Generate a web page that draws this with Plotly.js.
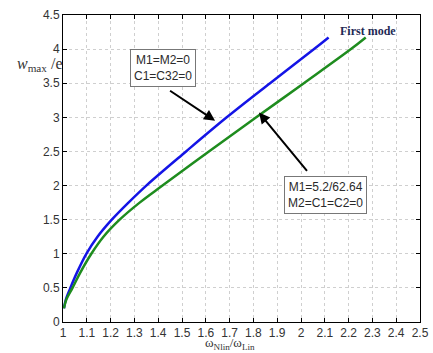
<!DOCTYPE html>
<html>
<head>
<meta charset="utf-8">
<script src="https://cdn.plot.ly/plotly-3.0.1.min.js"></script>
<style>html,body{margin:0;padding:0;background:#fff}#plot{width:433px;height:353px}</style>
</head>
<body>
<div id="plot"></div>
<script>
// Blue curve: M1=M2=0, C1=C32=0
var blueRatio = [1.004, 1.012, 1.031, 1.058, 1.098, 1.145, 1.205, 1.275, 1.350, 1.517, 1.688, 1.870, 2.055, 2.116];
var blueAmp   = [0.20,  0.33,  0.50,  0.72,  1.00,  1.25,  1.50,  1.75,  2.00,  2.50,  3.00,  3.50,  4.00,  4.17];
// Green curve: M1=5.2/62.64, M2=C1=C2=0
var greenRatio = [1.004, 1.014, 1.040, 1.072, 1.119, 1.170, 1.238, 1.322, 1.418, 1.613, 1.812, 2.012, 2.210, 2.272];
var greenAmp   = [0.20,  0.33,  0.50,  0.72,  1.00,  1.25,  1.50,  1.75,  2.00,  2.50,  3.00,  3.50,  4.00,  4.17];

var xTicks = [1, 1.1, 1.2, 1.3, 1.4, 1.5, 1.6, 1.7, 1.8, 1.9, 2, 2.1, 2.2, 2.3, 2.4, 2.5];
var xTickText = ['1','1.1','1.2','1.3','1.4','1.5','1.6','1.7','1.8','1.9','2','2.1','2.2','2.3','2.4','2.5'];
var yTicks = [0, 0.5, 1, 1.5, 2, 2.5, 3, 3.5, 4, 4.5];
var yTickText = ['0','0.5','1','1.5','2','2.5','3','3.5','4','4.5'];

var traces = [
  {x: blueRatio, y: blueAmp, mode: 'lines', line: {color: '#1414e6', width: 2.5, shape: 'spline', smoothing: 1}, hoverinfo: 'skip'},
  {x: greenRatio, y: greenAmp, mode: 'lines', line: {color: '#1e8c1e', width: 2.5, shape: 'spline', smoothing: 1}, hoverinfo: 'skip'}
];

var tickFont = {family: 'Liberation Sans, Arial, sans-serif', size: 12, color: '#333'};
var boxFont = {family: 'Liberation Sans, Arial, sans-serif', size: 12, color: '#2a2a2a'};

var layout = {
  width: 433, height: 353,
  margin: {l: 63, r: 13, t: 15, b: 31},
  paper_bgcolor: '#fff', plot_bgcolor: '#fff',
  showlegend: false,
  xaxis: {
    range: [1, 2.5], tickvals: xTicks, ticktext: xTickText,
    showgrid: true, gridcolor: '#cfcfcf', griddash: 'dot', gridwidth: 1,
    zeroline: false, showline: true, linecolor: '#000', linewidth: 1, mirror: 'ticks',
    ticks: 'inside', ticklen: 4, tickcolor: '#000', tickfont: tickFont
  },
  yaxis: {
    range: [0, 4.5], tickvals: yTicks, ticktext: yTickText,
    showgrid: true, gridcolor: '#cfcfcf', griddash: 'dot', gridwidth: 1,
    zeroline: false, showline: true, linecolor: '#000', linewidth: 1, mirror: 'ticks',
    ticks: 'inside', ticklen: 4, tickcolor: '#000', tickfont: tickFont
  },
  annotations: [
    {xref: 'paper', yref: 'paper', x: -0.135, y: 0.84, xanchor: 'left', yanchor: 'middle', showarrow: false,
     text: '<i>w</i><sub>max</sub> /e', font: {family: 'Liberation Serif, Times New Roman, serif', size: 16, color: '#333'}},
    {xref: 'paper', yref: 'paper', x: 0.468, y: -0.1, yanchor: 'bottom', showarrow: false, borderpad: 0,
     text: 'ω<sub>Nlin</sub>/ω<sub>Lin</sub>', font: {family: 'Liberation Serif, Times New Roman, serif', size: 13, color: '#333'}},
    {x: 2.28, y: 4.26, showarrow: false, text: '<b>First mode</b>',
     font: {family: 'Liberation Serif, Times New Roman, serif', size: 12, color: '#1f2a55'}},
    {x: 1.42, y: 3.73, showarrow: false, text: 'M1=M2=0<br>C1=C32=0',
     bgcolor: '#fff', bordercolor: '#777', borderwidth: 1, borderpad: 3, font: boxFont},
    {x: 1.639, y: 2.95, ax: -48, ay: -32, showarrow: true, text: ' ',
     arrowhead: 2, arrowsize: 1.1, arrowwidth: 2, arrowcolor: '#000'},
    {x: 2.105, y: 1.855, showarrow: false, text: 'M1=5.2/62.64<br>M2=C1=C2=0',
     bgcolor: '#fff', bordercolor: '#777', borderwidth: 1, borderpad: 3, font: boxFont},
    {x: 1.8235, y: 3.07, ax: 51, ay: 62, showarrow: true, text: ' ',
     arrowhead: 2, arrowsize: 1.1, arrowwidth: 2, arrowcolor: '#000'}
  ]
};

Plotly.newPlot('plot', traces, layout, {staticPlot: true, displayModeBar: false});
</script>
</body>
</html>
